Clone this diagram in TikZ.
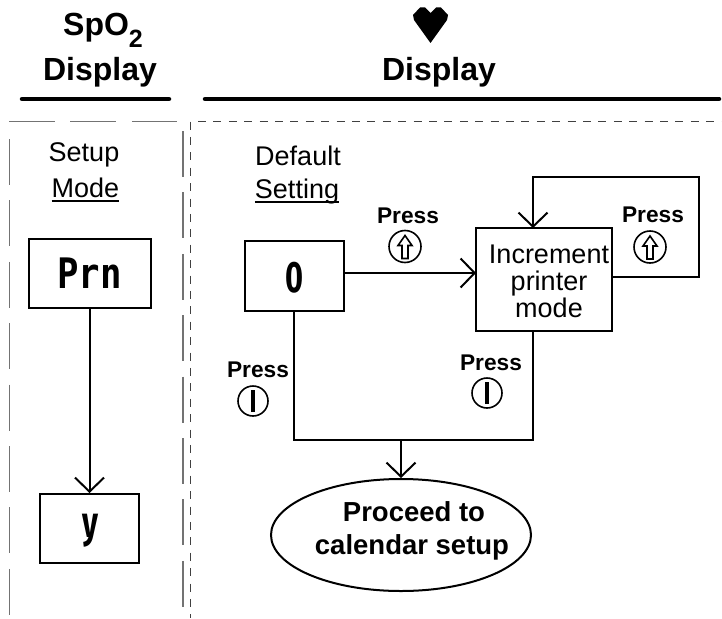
\documentclass[tikz,border=0pt]{standalone}
\usepackage{fontspec}
\setmainfont{Liberation Sans}
\newfontfamily\ledfont{Fira Sans}
\newfontfamily\ledmono{DejaVu Sans Mono}
\usetikzlibrary{arrows.meta,shapes.geometric}
\newcommand\ulword[1]{\setbox0\hbox{#1}\rlap{\rule[-4.5pt]{\wd0}{2pt}}#1}
\tikzset{
  conn/.style={draw=black,line width=2pt},
  arrowconn/.style={conn,-{Straight Barb[length=14pt,width=29pt,line width=2pt]}},
  box/.style={draw=black,line width=2pt,inner sep=0pt,minimum width=#1},
  heading/.style={font=\fontsize{32}{32}\selectfont\bfseries,anchor=base,inner sep=0pt},
  plain/.style={font=\fontsize{27}{27}\selectfont,anchor=base,inner sep=0pt},
  press/.style={font=\fontsize{22.7}{22.7}\selectfont\bfseries,anchor=base,inner sep=0pt},
  proceed/.style={font=\fontsize{27.5}{27.5}\selectfont\bfseries,anchor=base,inner sep=0pt},
  ledmonotext/.style={font=\fontsize{42}{42}\selectfont\ledmono\bfseries,anchor=base,inner sep=0pt,xscale=.85},
  led/.style={font=\fontsize{44}{44}\selectfont\ledfont\bfseries,anchor=base,inner sep=0pt,xscale=.7},
  rulebar/.style={line width=4.5pt,line cap=round},
  coarse/.style={draw=black!55,line width=1.2pt,dash pattern=on 46pt off 15.4pt},
  fine/.style={draw=black!75,line width=1.2pt,dash pattern=on 8pt off 7.4pt},
  button/.style={circle,draw=black,line width=1.6pt,minimum size=#1,inner sep=0pt},
}
\newcommand\upglyph[1]{\draw[black,line width=1.6pt,line join=miter] ([shift={(-3,12)}]#1.center) -- ++(0,-13) -- ++(-4,0) -- ++(7,-10) -- ++(7,10) -- ++(-4,0) -- ++(0,13) -- cycle;}
\newcommand\barglyph[1]{\draw[black,line width=4pt] ([yshift=-11pt]#1.center) -- ([yshift=11pt]#1.center);}
\begin{document}
\begin{tikzpicture}[x=1pt,y=-1pt]
\useasboundingbox (0,0) rectangle (722,618);
% headings
\node[heading] (spo) at (103,36) {SpO\raisebox{-12pt}{\fontsize{25}{25}\selectfont 2}};
\node[heading] (disa) at (100,80) {Display};
\node[heading] (disb) at (439,80) {Display};
\fill[black] (430.5,43) -- (414,20) -- (413,15) -- (420,7.5) -- (425,7.5) -- (430.5,13) -- (436,7.5) -- (441,7.5) -- (448,15) -- (447,20) -- cycle;
\draw[rulebar] (22,99) -- (169,99);
\draw[rulebar] (205,99) -- (719,99);
% panels
\draw[coarse] (9,121.5) -- (177,121.5);
\draw[coarse] (9.5,139) -- (9.5,615);
\draw[coarse] (183,131) -- (183,608);
\draw[fine] (198,121.5) -- (722,121.5);
\draw[fine] (190.5,121.5) -- (190.5,618);
% column titles
\node[plain] (setup) at (84,161) {Setup};
\node[plain] (mode) at (85.5,197) {\ulword{Mode}};
\node[plain] (default) at (298,165) {Default};
\node[plain] (setting) at (297,198) {\ulword{Setting}};
% boxes
\node[box=122pt,minimum height=69pt] (prn) at (89.5,273.5) {};
\node[ledmonotext] at (89.5,288) {Prn};
\node[box=99pt,minimum height=69pt] (ybox) at (89.5,528.5) {};
\node[led] at (90,537) {y};
\node[box=99pt,minimum height=70pt] (zero) at (294,276) {};
\node[led] at (294.5,292) {0};
\node[box=136pt,minimum height=103pt] (inc) at (544,279.5) {};
\node[font=\fontsize{27}{27}\selectfont,align=center,inner sep=0pt] (inclabel) at (549,281) {Increment\\printer\\mode};
\node[ellipse,draw=black,line width=2pt,minimum width=260pt,minimum height=112pt,inner sep=0pt] (end) at (401,535) {};
\node[proceed] (proca) at (414,521) {Proceed to};
\node[proceed] (procb) at (412,554) {calendar setup};
% press labels
\node[press] (pa) at (408,223) {Press};
\node[press] (pb) at (653,222) {Press};
\node[press] (pc) at (258,377) {Press};
\node[press] (pd) at (491,370) {Press};
\node[button=32pt] (ba) at (405,246.5) {}; \upglyph{ba}
\node[button=32pt] (bb) at (650,247) {}; \upglyph{bb}
\node[button=30pt] (bc) at (253,401) {}; \barglyph{bc}
\node[button=30pt] (bd) at (487,393) {}; \barglyph{bd}
% connectors
\coordinate (join) at (end.north |- 0,440);
\coordinate (ja) at (zero.south |- join);
\coordinate (jb) at (532.5,440);
\coordinate (incb) at (532.5,331);
\coordinate (lt) at (699,277);
\coordinate (rt) at (699,177);
\coordinate (lf) at (533,177);
\coordinate (incr) at (612,277);
\coordinate (inct) at (533,228);
\coordinate (zr) at (343.5,273);
\coordinate (incl) at (476,273);
\draw[arrowconn] (prn) -- (ybox);
\draw[arrowconn] (zr) -- (incl);
\draw[arrowconn] (incr) -- (lt) -- (rt) -- (lf) -- (inct);
\draw[conn] (zero.south) -- (ja) -- (jb) -- (incb);
\draw[arrowconn] (join) -- (end.north);
\end{tikzpicture}
\end{document}
